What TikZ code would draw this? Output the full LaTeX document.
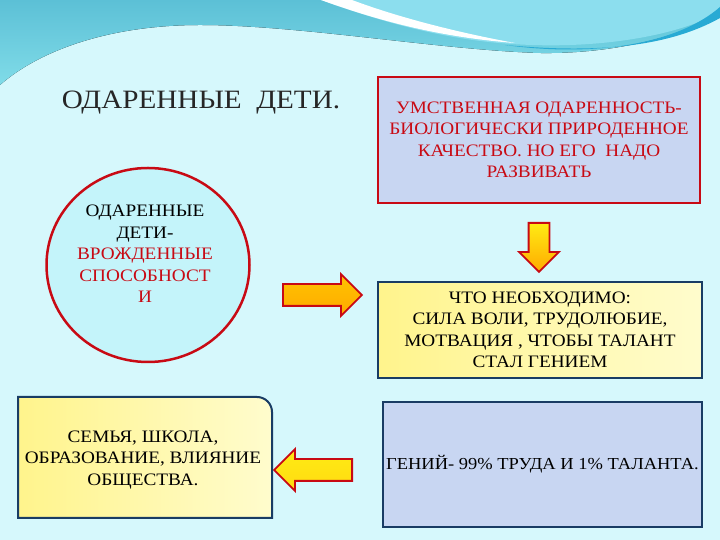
\documentclass[tikz,border=0pt]{standalone}
\usepackage{fontspec}
\setmainfont{Liberation Serif}[FakeStretch=1.1]
\definecolor{skyback}{RGB}{214, 248, 252}
\definecolor{waveblue}{RGB}{92, 192, 214}
\definecolor{wavelight}{RGB}{140, 222, 238}
\definecolor{wavedark}{RGB}{40, 170, 212}
\definecolor{framered}{RGB}{200, 10, 20}
\definecolor{frameblue}{RGB}{25, 60, 100}
\definecolor{paleviolet}{RGB}{200, 214, 242}
\definecolor{paleyellow}{RGB}{255, 244, 140}
\definecolor{creamyellow}{RGB}{255, 252, 205}
\definecolor{arrorange}{RGB}{255, 170, 0}
\definecolor{arryellow}{RGB}{255, 235, 20}
\definecolor{circfill}{RGB}{196, 244, 250}
\usetikzlibrary{shapes.geometric, shapes.arrows, positioning}

\begin{document}
\begin{tikzpicture}[x=1pt, y=1pt,
  boxtext/.style={font=\fontsize{17.5}{21.5}\selectfont, align=center},
  violetbox/.style={fill=paleviolet, minimum width=#1, inner sep=0pt},
  yellowbox/.style={left color=paleyellow, right color=creamyellow, draw=frameblue, line width=2pt, inner sep=0pt},
  blockarrow/.style={single arrow, draw=framered, line width=1.8pt, inner xsep=0pt,
    inner ysep=10pt, single arrow head extend=10pt}]
  % backdrop and wave
  \fill[skyback] (0,0) rectangle (720,540);
  \fill[top color=waveblue, bottom color=waveblue!80!cyan!70!white] (0,540) -- (720,540) -- (720,527)
    .. controls (680,502) and (610,486) .. (540,487)
    .. controls (440,490) and (300,515) .. (200,515)
    .. controls (110,515) and (40,490) .. (0,455) -- cycle;
  \fill[wavelight] (321,540) .. controls (390,515) and (450,500) .. (512,496)
    .. controls (600,490) and (680,505) .. (720,528) -- (720,540) -- cycle;
  \fill[white] (321,540) .. controls (390,515) and (450,502) .. (515,497)
    .. controls (460,507) and (400,522) .. (352,540) -- cycle;
  \fill[wavedark] (505,495) .. controls (600,482) and (680,498) .. (720,533)
    -- (720,522) .. controls (670,494) and (600,486) .. (505,495) -- cycle;

  % title
  \node[font=\fontsize{26.5}{30}\selectfont, text=black!85] (title) at (201,437) {ОДАРЕННЫЕ\ \ ДЕТИ.};

  % top right box
  \node[boxtext, violetbox=322pt, draw=framered, line width=2.2pt, minimum height=126pt, text=framered]
    (mind) at (539,400) {УМСТВЕННАЯ ОДАРЕННОСТЬ-\\БИОЛОГИЧЕСКИ ПРИРОДЕННОЕ\\КАЧЕСТВО. НО ЕГО\ \ НАДО\\РАЗВИВАТЬ};

  % ellipse
  \node[ellipse, fill=circfill, draw=framered, line width=2.5pt, minimum width=203pt, minimum height=194pt, inner sep=0pt]
    (gifted) at (148,275) {};
  \node[boxtext] (giftedtxt) at (145,286) {ОДАРЕННЫЕ\\ДЕТИ-\\\textcolor{framered}{ВРОЖДЕННЫЕ}\\\textcolor{framered}{СПОСОБНОСТ}\\\textcolor{framered}{И}};

  % block arrows
  \node[blockarrow, top color=arrorange!70!yellow, bottom color=arrorange, minimum height=79pt, anchor=tail]
    (toright) at (282,245) {};
  \node[blockarrow, top color=arryellow, bottom color=arrorange, minimum height=49pt, inner ysep=0pt, inner xsep=9.5pt,
    single arrow head extend=9.5pt, shape border rotate=270, anchor=tail] (todown) at (539,318) {};
  \node[blockarrow, top color=arryellow, bottom color=arryellow!85!orange, minimum height=78pt,
    shape border rotate=180, anchor=tail] (toleft) at (353,70) {};

  % middle right box
  \node[boxtext, yellowbox, minimum width=324pt, minimum height=96pt]
    (needs) at (540,210) {ЧТО НЕОБХОДИМО:\\СИЛА ВОЛИ, ТРУДОЛЮБИЕ,\\МОТВАЦИЯ , ЧТОБЫ ТАЛАНТ\\СТАЛ ГЕНИЕМ};

  % bottom left box, one corner rounded
  \fill[left color=paleyellow, right color=creamyellow] (18,22) -- (18,143) -- (257,143)
    arc[start angle=90, end angle=0, radius=15] -- (272,22) -- cycle;
  \draw[frameblue, line width=2pt] (18,22) -- (18,143) -- (257,143)
    arc[start angle=90, end angle=0, radius=15] -- (272,22) -- cycle;
  \node[boxtext] (society) at (143,80) {СЕМЬЯ, ШКОЛА,\\ОБРАЗОВАНИЕ, ВЛИЯНИЕ\\ОБЩЕСТВА.};

  % bottom right box
  \node[boxtext, font=\fontsize{16.8}{21}\selectfont, violetbox=319pt, draw=frameblue, line width=2pt, minimum height=125pt]
    (genius) at (542.5,75.5) {ГЕНИЙ- 99\% ТРУДА И 1\% ТАЛАНТА.};
\end{tikzpicture}
\end{document}
